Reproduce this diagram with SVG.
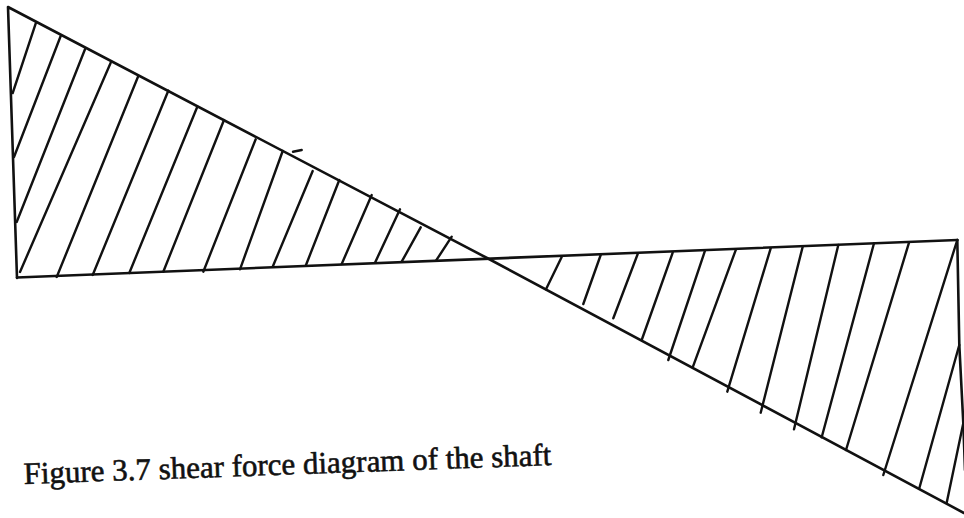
<svg xmlns="http://www.w3.org/2000/svg" width="964" height="518" viewBox="0 0 964 518">
<style>
.ln{stroke:#111;stroke-width:2.6;fill:none;stroke-linecap:round;stroke-linejoin:round}
.h{stroke:#111;stroke-width:2.4;fill:none;stroke-linecap:round}
.cap{font-family:"Liberation Serif","Times New Roman",serif;font-size:31px;fill:#111;stroke:#111;stroke-width:0.6}
</style>
<rect width="964" height="518" fill="#fff"/>
<g id="outline">
<polyline class="ln" points="17,278 8,7 488,258.5 964,513"/>
<line class="ln" x1="17" y1="277.5" x2="957.3" y2="240"/>
<polyline class="ln" points="957.3,240 959.3,345 963.3,423 965,470"/>
</g>
<g id="hatch-left">
<line class="h" x1="12.7" y1="93" x2="36" y2="22.7"/>
<line class="h" x1="14" y1="157" x2="60.7" y2="36"/>
<line class="h" x1="16.7" y1="222" x2="85" y2="49.3"/>
<line class="h" x1="20" y1="272" x2="110.7" y2="62.7"/>
<line class="h" x1="56.7" y1="277" x2="138.3" y2="76"/>
<line class="h" x1="92.7" y1="275" x2="168.3" y2="90.7"/>
<line class="h" x1="129.3" y1="273" x2="197.3" y2="106.7"/>
<line class="h" x1="163.3" y1="271.7" x2="224" y2="120"/>
<line class="h" x1="203.3" y1="271.7" x2="255.7" y2="139.3"/>
<line class="h" x1="240" y1="269.3" x2="282.7" y2="151"/>
<line class="h" x1="272.7" y1="266.7" x2="312.7" y2="171"/>
<line class="h" x1="306" y1="265" x2="339.3" y2="180"/>
<line class="h" x1="341.7" y1="264" x2="371.7" y2="195"/>
<line class="h" x1="375" y1="262.7" x2="400" y2="209.3"/>
<line class="h" x1="401.7" y1="261.7" x2="420.7" y2="227.3"/>
<line class="h" x1="436" y1="260.7" x2="451.7" y2="236.7"/>
<line class="h" x1="293" y1="151.8" x2="301.7" y2="150"/>
</g>
<g id="hatch-right">
<line class="h" x1="561.7" y1="257" x2="546" y2="289.3"/>
<line class="h" x1="600.7" y1="255" x2="583.3" y2="304"/>
<line class="h" x1="637.7" y1="254" x2="613.3" y2="318.3"/>
<line class="h" x1="672.7" y1="252.7" x2="641.7" y2="340"/>
<line class="h" x1="705" y1="250.7" x2="668.3" y2="360"/>
<line class="h" x1="736" y1="249.3" x2="692.7" y2="367.3"/>
<line class="h" x1="770.7" y1="248.3" x2="727.3" y2="391.7"/>
<line class="h" x1="802.7" y1="246.7" x2="760.7" y2="412.7"/>
<line class="h" x1="838.3" y1="245" x2="794" y2="429.3"/>
<line class="h" x1="874" y1="243.3" x2="821.7" y2="437.3"/>
<line class="h" x1="909" y1="242.7" x2="846" y2="450"/>
<line class="h" x1="957.3" y1="240" x2="883.3" y2="475"/>
<line class="h" x1="959.3" y1="345" x2="919.3" y2="488.3"/>
<line class="h" x1="963.3" y1="423.3" x2="946.7" y2="502.7"/>
</g>
<g id="caption">
<text class="cap" x="24" y="484" textLength="528" lengthAdjust="spacingAndGlyphs" transform="rotate(-2.06 24 484)">Figure 3.7 shear force diagram of the shaft</text>
</g>
</svg>
